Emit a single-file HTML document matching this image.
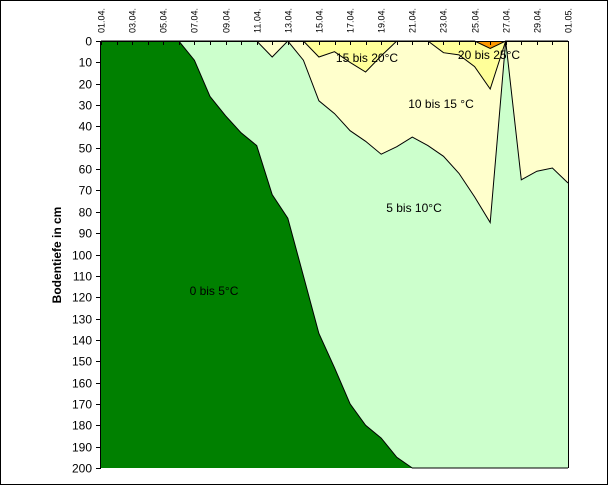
<!DOCTYPE html>
<html><head><meta charset="utf-8"><style>
html,body{margin:0;padding:0;background:#fff}
svg{display:block;font-family:"Liberation Sans",Arial,sans-serif}
</style></head><body>
<svg id="chart" width="608" height="485" viewBox="0 0 608 485">
<rect x="0.5" y="0.5" width="607" height="484" fill="#fff" stroke="#000"/>
<g id="plot"></g>
<g id="axes"></g>
<text x="0" y="0" transform="translate(61,255) rotate(-90)" text-anchor="middle" font-size="12" font-weight="bold">Bodentiefe in cm</text>
<text x="367" y="62" text-anchor="middle" font-size="12">15 bis 20°C</text>
<text x="489" y="59" text-anchor="middle" font-size="12">20 bis 25°C</text>
<text x="441" y="108" text-anchor="middle" font-size="12">10 bis 15 °C</text>
<text x="414" y="212" text-anchor="middle" font-size="12">5 bis 10°C</text>
<text x="214" y="295" text-anchor="middle" font-size="12">0 bis 5°C</text>
</svg>
<script>
const days = ["01.04.","02.04.","03.04.","04.04.","05.04.","06.04.","07.04.","08.04.","09.04.","10.04.","11.04.","12.04.","13.04.","14.04.","15.04.","16.04.","17.04.","18.04.","19.04.","20.04.","21.04.","22.04.","23.04.","24.04.","25.04.","26.04.","27.04.","28.04.","29.04.","30.04.","01.05."];
const depth5  = [0,0,0,0,0,0,9,26,35,43,49,72,83,110,137,153,170,180,186,195,200,200,200,200,200,200,200,200,200,200,200];
const depth10 = [0,0,0,0,0,0,0,0,0,0,0,7.5,0,9,28,34,42,47,53,49.5,45,49,54,62,73,85,0,65,61,59.5,66.5];
const depth15 = [0,0,0,0,0,0,0,0,0,0,0,0,0,0,7.5,5,10,14.5,7,0,0,0,5.5,6.5,12,22.5,0,0,0,0,0];
const depth20 = [0,0,0,0,0,0,0,0,0,0,0,0,0,0,0,0,0,0,0,0,0,0,0,0,0,3.5,0,0,0,0,0];
const yTicks = [0,10,20,30,40,50,60,70,80,90,100,110,120,130,140,150,160,170,180,190,200];

const X0=101, X1=568, Y0=41, Y1=468;
const xs = i => X0 + (X1-X0)*i/(days.length-1);
const ys = d => Y0 + (Y1-Y0)*d/200;
const NS="http://www.w3.org/2000/svg";
const plot=document.getElementById('plot'), axes=document.getElementById('axes');

const bg=document.createElementNS(NS,'rect');
bg.setAttribute('x',X0);bg.setAttribute('y',Y0);bg.setAttribute('width',X1-X0);bg.setAttribute('height',Y1-Y0);bg.setAttribute('fill','#ff9900');


plot.appendChild(bg);

const layers=[[depth20,'#ffff99','area-15-20'],[depth15,'#ffffcc','area-10-15'],[depth10,'#ccffcc','area-5-10'],[depth5,'#008000','area-0-5']];
layers.forEach(([arr,col,nm])=>{
  const pts=arr.map((d,i)=>xs(i).toFixed(1)+','+ys(d).toFixed(1));
  const poly=document.createElementNS(NS,'polygon');
  poly.setAttribute('points',pts.join(' ')+' '+X1+','+Y1+' '+X0+','+Y1);
  poly.setAttribute('fill',col);
  
  
  plot.appendChild(poly);
});
layers.forEach(([arr,col,nm])=>{
  const pl=document.createElementNS(NS,'polyline');
  pl.setAttribute('points',arr.map((d,i)=>xs(i).toFixed(1)+','+ys(d).toFixed(1)).join(' '));
  pl.setAttribute('fill','none');pl.setAttribute('stroke','#000');pl.setAttribute('stroke-width','1');
  
  
  plot.appendChild(pl);
});

function line(x1,y1,x2,y2,name){
  const l=document.createElementNS(NS,'line');
  l.setAttribute('x1',x1);l.setAttribute('y1',y1);l.setAttribute('x2',x2);l.setAttribute('y2',y2);
  l.setAttribute('stroke','#000');l.setAttribute('stroke-width','1');
  
  
  axes.appendChild(l);
}
line(X0-0.5,Y0,X0-0.5,Y1,'y-axis-line');
line(X0,Y0+0.5,X1,Y0+0.5,'x-axis-line');
line(X1+0.5,Y0,X1+0.5,Y1,'right-border');
yTicks.forEach(v=>{
  const y=Math.round(ys(v))+0.5;
  line(X0-5,y,X0,y,'y-tick');
  const t=document.createElementNS(NS,'text');
  t.setAttribute('x',X0-9);t.setAttribute('y',y+4);t.setAttribute('text-anchor','end');t.setAttribute('font-size','12');
  t.textContent=v;
  
  
  axes.appendChild(t);
});
days.forEach((d,i)=>{
  const x=Math.round(xs(i))+0.5;
  line(x,Y0,x,Y0+4,'x-tick');
  if(i%2===0){
    const t=document.createElementNS(NS,'text');
    t.setAttribute('transform','translate('+(x+3)+',33) rotate(-90)');
    t.setAttribute('font-size','9');
    t.textContent=d;
    
    
    axes.appendChild(t);
  }
});
</script>
</body></html>
